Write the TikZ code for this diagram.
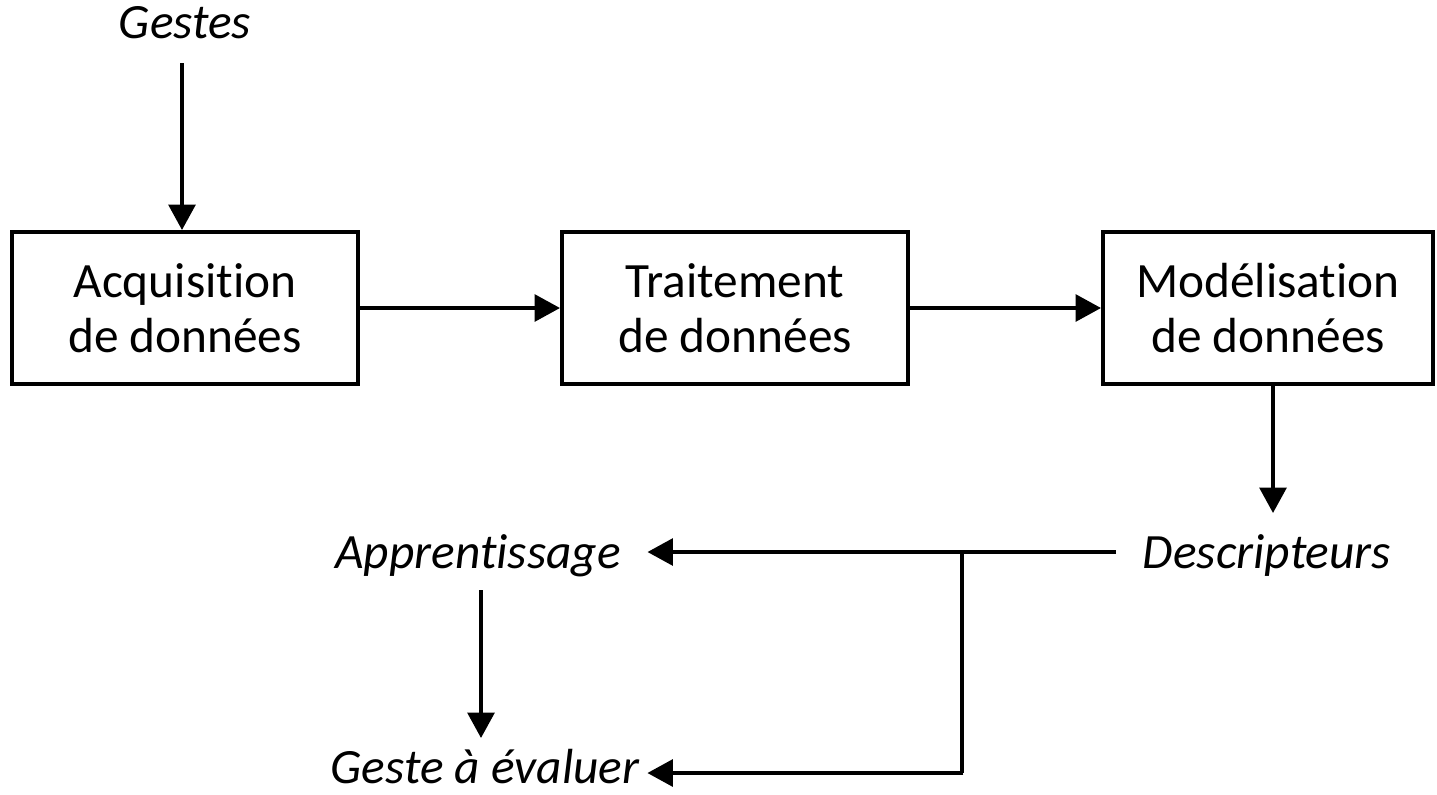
\documentclass[tikz,border=0pt]{standalone}
\usepackage{fontspec}
\setmainfont[Ligatures=NoCommon]{Carlito}
\usetikzlibrary{arrows.meta}
\begin{document}
\begin{tikzpicture}[x=0.75pt,y=-0.75pt,
  box/.style={draw,line width=3pt,minimum height=114pt,align=center,inner sep=0pt,
    font=\fontsize{37}{41}\selectfont},
  lbl/.style={inner sep=0pt,anchor=base,font=\fontsize{37}{44}\selectfont\itshape},
  arr/.style={line width=2.8pt,-{Triangle[length=19pt,width=20pt]}},
  ln/.style={line width=2.8pt}]
\useasboundingbox (0,0) rectangle (1437,794);
\node[box,minimum width=259.5pt] (b1) at (185,308) {Acquisition\\de données};
\node[box,minimum width=259.5pt] (b2) at (735,308) {Traitement\\de données};
\node[box,minimum width=247.5pt] (b3) at (1268,308) {Modélisation\\de données};
\node[lbl] (g) at (185,38) {Gestes};
\node[lbl] (d) at (1267,568) {Descripteurs};
\node[lbl] (a) at (478,568) {Apprentissage};
\node[lbl] (e) at (485,783) {Geste à évaluer};
\coordinate (j) at (962,552);
\coordinate (k) at (962,773);
\draw[arr] (182,63) -- (182,230);
\draw[arr] (b1.east) -- (b2.west);
\draw[arr] (b2.east) -- (b3.west);
\draw[arr] (1273,384) -- (1273,513);
\draw[arr] ([xshift=-20pt]d.west |- j) -- ([xshift=20pt]a.east |- j);
\draw[ln] (j) -- (k);
\draw[arr] ([xshift=1pt]k) -- ([xshift=6pt]e.east |- k);
\draw[arr] (481,590) -- (481,738);
\end{tikzpicture}
\end{document}
